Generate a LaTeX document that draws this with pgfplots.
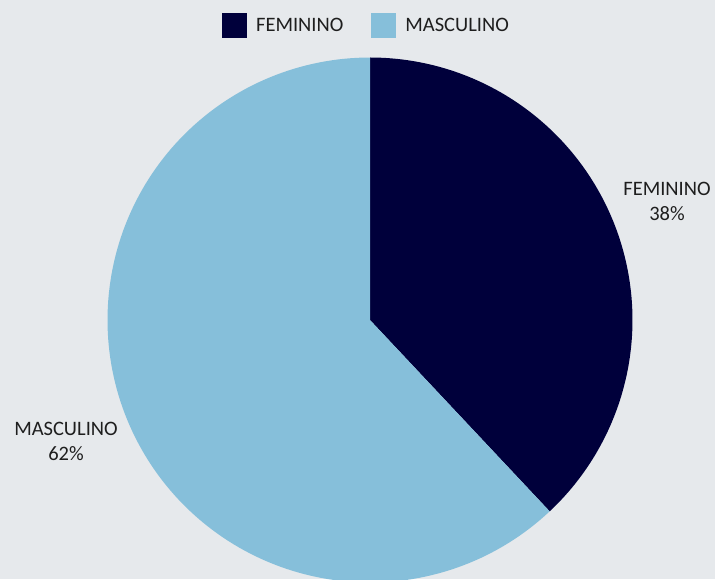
\documentclass[border=0pt]{standalone}
\usepackage{fontspec}
\setmainfont{Carlito}
\usepackage{pgfplots}
\pgfplotsset{compat=1.18}
\definecolor{bgc}{HTML}{E6E9EC}
\definecolor{fem}{HTML}{00003B}
\definecolor{mas}{HTML}{86BFDA}
\definecolor{txt}{HTML}{1E1E1E}
\begin{document}
\begin{tikzpicture}
\fill[bgc] (0,0) rectangle (715pt,579pt);
\begin{axis}[
  at={(0,0)}, anchor=origin,
  width=715pt, height=579pt, scale only axis,
  xmin=0, xmax=715, ymin=0, ymax=579,
  hide axis,
  font=\fontsize{20.5}{25}\selectfont,
  legend columns=2,
  legend style={at={(axis cs:366.5,553)}, anchor=center, draw=none, fill=none,
    font=\fontsize{20.5}{25}\selectfont\color{txt},
    /tikz/every even column/.append style={column sep=26pt},
    inner sep=0pt},
  legend image code/.code={\fill[#1] (0pt,-12.5pt) rectangle (25pt,12.5pt); \path (32pt,0pt);},
]
% values: FEMININO 38%, MASCULINO 62%
\addplot[fill=fem, draw=none, domain=0:38, samples=120, variable=\t]
  ({370+262.5*sin(3.6*\t)}, {259+262.5*cos(3.6*\t)}) -- (axis cs:370,259) -- cycle;
\addlegendentry{FEMININO}
\addplot[fill=mas, draw=none, domain=38:100, samples=160, variable=\t]
  ({370+262.5*sin(3.6*\t)}, {259+262.5*cos(3.6*\t)}) -- (axis cs:370,259) -- cycle;
\addlegendentry{MASCULINO}
\node[align=center, text=txt, inner sep=0pt] at (axis cs:667,378) {FEMININO\\38\%};
\node[align=center, text=txt, inner sep=0pt] at (axis cs:66,138) {MASCULINO\\62\%};
\end{axis}
\end{tikzpicture}
\end{document}
